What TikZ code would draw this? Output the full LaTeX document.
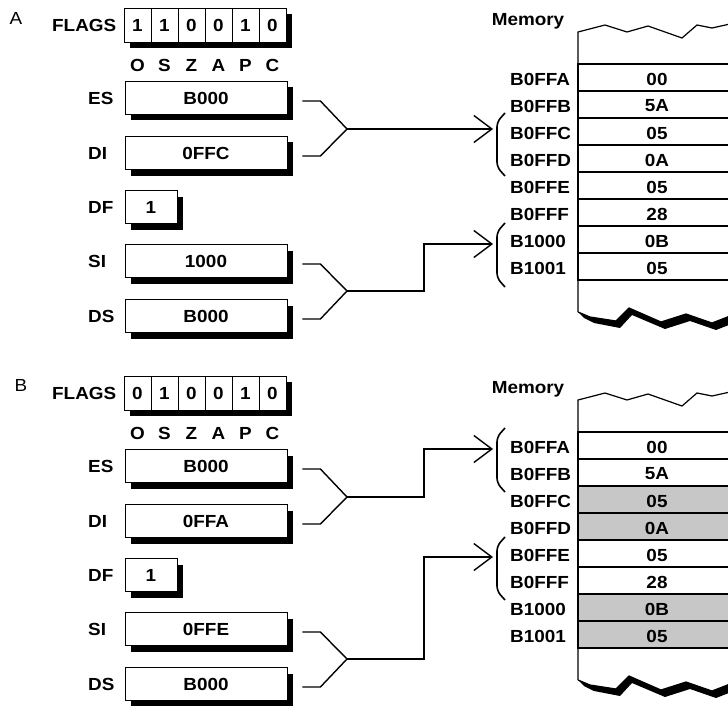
\documentclass[tikz,border=0pt]{standalone}
\usepackage{fontspec}
\setmainfont{Liberation Sans}[FakeStretch=1.08]
\usetikzlibrary{arrows.meta,shadows}

\tikzset{
  txt/.style={font=\fontsize{17.5}{20}\selectfont\bfseries, inner sep=0pt},
  tag/.style={font=\fontsize{17.5}{20}\selectfont, inner sep=0pt},
  shadowed/.style={drop shadow={shadow xshift=6pt, shadow yshift=-6pt, fill=black, opacity=1}},
  reg/.style={txt, draw, fill=white, line width=0.8pt, minimum width=162pt, minimum height=33pt, shadowed},
  flagcell/.style={txt, draw, line width=0.8pt, minimum width=27pt, minimum height=34pt},
  wire/.style={line width=1.4pt},
  ptr/.style={wire, -{Straight Barb[length=18pt, width=27pt]}},
  memline/.style={line width=1.2pt},
}

\begin{document}
\begin{tikzpicture}[x=1pt, y=-1pt]
\useasboundingbox (0,0) rectangle (728,706);
\clip (0,0) rectangle (728,706);

% ---------------- Panel A: before ----------------
\node[tag] (tagA) at (16,18) {A};

% Flags register
\node[txt, anchor=west] (flagsA) at (52,25) {FLAGS};
\node[reg, minimum width=162pt, minimum height=34pt] (fbA) at (205,25) {};
\foreach \i/\v/\f in {1/1/O, 2/1/S, 3/0/Z, 4/0/A, 5/1/P, 6/0/C}{
  \pgfmathsetmacro\xpos{124 + 27*\i - 13.5}
  \node[flagcell] (fA\i) at (\xpos,25) {\v};
  \node[txt] (fnA\i) at (\xpos,65) {\f};
}

% Segment and index registers
\foreach \n/\l/\v/\y in {esA/ES/B000/98, diA/DI/0FFC/153, siA/SI/1000/261, dsA/DS/B000/316}{
  \node[txt, anchor=west] (\n l) at (88,\y) {\l};
  \node[reg] (\n) at (206,\y) {\v};
}
\node[txt, anchor=west] (dfAl) at (88,207) {DF};
\node[reg, minimum width=52pt] (dfA) at (151,207) {1};

% Memory column
\node[txt] (memA) at (528,21) {Memory};
\draw[memline] (730,24) -- (712,28) -- (697,25) -- (682,38) -- (648,26) -- (627,32) -- (605,25) -- (578,32) -- (578,312);
\foreach \a/\v [count=\k] in {B0FFA/00, B0FFB/5A, B0FFC/05, B0FFD/0A, B0FFE/05, B0FFF/28, B1000/0B, B1001/05}{
  \pgfmathsetmacro\ytop{64 + 27*(\k-1)}
  \draw[memline] (578,\ytop) rectangle (740,\ytop+27);
  \node[txt, anchor=west] (adA\k) at (510,\ytop+15) {\a};
  \node[txt] (mvA\k) at (657,\ytop+15) {\v};
}
\fill[black] (578,312) -- (590,317) -- (616,321) -- (629,308) -- (661,322) -- (686,314) -- (712,323) -- (730,316)
  -- (734,323) -- (716,330) -- (690,321) -- (665,329) -- (632,315) -- (620,328) -- (594,323) -- (584,318) -- cycle;
\draw[memline] (578,312) -- (590,317) -- (616,321) -- (629,308) -- (661,322) -- (686,314) -- (712,323) -- (730,316);

% Brackets round the word pointed at
\foreach \t/\b in {113/176, 223/287}{
  \draw[wire, line width=1.6pt, rounded corners=5pt] (505,\t) -- (497,\t+9) -- (497,\b-9) -- (505,\b);
}

% ES:DI and DS:SI pointers
\coordinate (jA1) at (347,129);
\coordinate (jA2) at (347,291);
\coordinate (bkA1) at (493,129);
\coordinate (bkA2) at (493,244);
\draw[wire] ([xshift=15pt,yshift=-3pt]esA.east) -- ++(18,0) -- (jA1);
\draw[wire] ([xshift=15pt,yshift=-3pt]diA.east) -- ++(18,0) -- (jA1);
\draw[ptr] (jA1) -- (bkA1);
\draw[wire] ([xshift=15pt,yshift=-3pt]siA.east) -- ++(18,0) -- (jA2);
\draw[wire] ([xshift=15pt,yshift=-3pt]dsA.east) -- ++(18,0) -- (jA2);
\draw[ptr] (jA2) -| (424,244) -- (bkA2);

% ---------------- Panel B: after ----------------
\begin{scope}[yshift=-368pt]
\node[tag] (tagB) at (21,17) {B};

% Flags register
\node[txt, anchor=west] (flagsB) at (52,25) {FLAGS};
\node[reg, minimum width=162pt, minimum height=34pt] (fbB) at (205,25) {};
\foreach \i/\v/\f in {1/0/O, 2/1/S, 3/0/Z, 4/0/A, 5/1/P, 6/0/C}{
  \pgfmathsetmacro\xpos{124 + 27*\i - 13.5}
  \node[flagcell] (fB\i) at (\xpos,25) {\v};
  \node[txt] (fnB\i) at (\xpos,65) {\f};
}

% Segment and index registers
\foreach \n/\l/\v/\y in {esB/ES/B000/98, diB/DI/0FFA/153, siB/SI/0FFE/261, dsB/DS/B000/316}{
  \node[txt, anchor=west] (\n l) at (88,\y) {\l};
  \node[reg] (\n) at (206,\y) {\v};
}
\node[txt, anchor=west] (dfBl) at (88,207) {DF};
\node[reg, minimum width=52pt] (dfB) at (151,207) {1};

% Memory column, moved bytes shaded
\node[txt] (memB) at (528,21) {Memory};
\foreach \k in {3,4,7,8}{
  \fill[black!22] (578,64+27*\k-27) rectangle (740,64+27*\k);
}
\draw[memline] (730,24) -- (712,28) -- (697,25) -- (682,38) -- (648,26) -- (627,32) -- (605,25) -- (578,32) -- (578,312);
\foreach \a/\v [count=\k] in {B0FFA/00, B0FFB/5A, B0FFC/05, B0FFD/0A, B0FFE/05, B0FFF/28, B1000/0B, B1001/05}{
  \pgfmathsetmacro\ytop{64 + 27*(\k-1)}
  \draw[memline] (578,\ytop) rectangle (740,\ytop+27);
  \node[txt, anchor=west] (adB\k) at (510,\ytop+15) {\a};
  \node[txt] (mvB\k) at (657,\ytop+15) {\v};
}
\fill[black] (578,312) -- (590,317) -- (616,321) -- (629,308) -- (661,322) -- (686,314) -- (712,323) -- (730,316)
  -- (734,323) -- (716,330) -- (690,321) -- (665,329) -- (632,315) -- (620,328) -- (594,323) -- (584,318) -- cycle;
\draw[memline] (578,312) -- (590,317) -- (616,321) -- (629,308) -- (661,322) -- (686,314) -- (712,323) -- (730,316);

% Brackets round the word pointed at
\foreach \t/\b in {60/124, 169/232}{
  \draw[wire, line width=1.6pt, rounded corners=5pt] (505,\t) -- (497,\t+9) -- (497,\b-9) -- (505,\b);
}

% ES:DI and DS:SI pointers
\coordinate (jB1) at (347,129);
\coordinate (jB2) at (347,291);
\coordinate (bkB1) at (493,81);
\coordinate (bkB2) at (493,189);
\draw[wire] ([xshift=15pt,yshift=-3pt]esB.east) -- ++(18,0) -- (jB1);
\draw[wire] ([xshift=15pt,yshift=-3pt]diB.east) -- ++(18,0) -- (jB1);
\draw[ptr] (jB1) -| (424,81) -- (bkB1);
\draw[wire] ([xshift=15pt,yshift=-3pt]siB.east) -- ++(18,0) -- (jB2);
\draw[wire] ([xshift=15pt,yshift=-3pt]dsB.east) -- ++(18,0) -- (jB2);
\draw[ptr] (jB2) -| (424,189) -- (bkB2);
\end{scope}
\end{tikzpicture}
\end{document}
